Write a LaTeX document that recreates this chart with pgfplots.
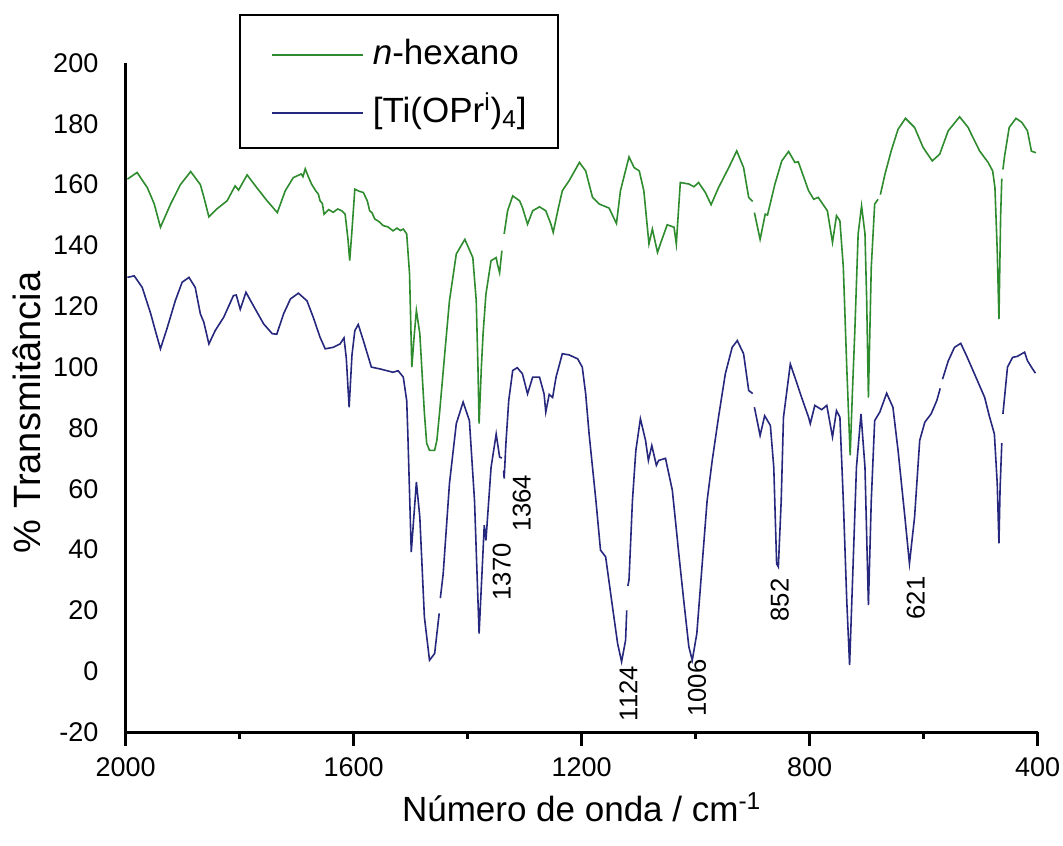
\documentclass[border=0pt]{standalone}
\usepackage{fontspec}
\setmainfont{Liberation Sans}
\usepackage{pgfplots}
\usepackage{pgfplotstable}
\pgfplotsset{compat=1.18}
\definecolor{hexgreen}{RGB}{46,139,46}
\definecolor{tiblue}{RGB}{38,40,125}

\pgfplotstableread{
w t
1997 161.8
1980 164
1962 159
1950 153.7
1939 146
1921 153.7
1904 160
1886 164.3
1869 160
1863 156
1854 149.4
1840 152
1822 154.7
1808 159.6
1802 158.2
1787 163.2
1770 159
1752 154.7
1734 150.8
1720 158
1706 162.3
1692 163.5
1689 162.6
1685 165.2
1680 162.8
1674 160.2
1666 157.8
1662 156.9
1659 154.7
1655 153.8
1652 150.3
1644 151.8
1636 150.9
1628 152
1621 151.4
1615 150.3
1610 142
1607 135
1603 145
1598 158.5
1590 157.8
1583 157.4
1576 154.6
1572 151.4
1568 150.8
1563 148.7
1556 147.9
1548 146.5
1540 146.1
1531 144.8
1524 145.7
1518 144.9
1513 145.4
1507 143.8
1502 130.6
1498 100
1494 110
1490 118.6
1484 111
1480 98
1476 85
1472 75
1467 72.6
1458 72.6
1454 76
1449 85.7
1440 105
1432 121.8
1420 137.2
1405 142
1391 136
1385 121.8
1382 100
1380 81.4
1376 100
1373 111
1368 124
1359 135
1350 136
1348 134
1344 131
1340 138.3
1338 nan
1336 143.8
1330 151.4
1321 156.3
1309 154.7
1304 152.5
1295 147
1286 151.4
1274 152.7
1263 151.4
1254 147
1250 144.3
1242 151.4
1234 158
1222 161.3
1204 167.3
1193 164.5
1181 155.8
1169 153.6
1152 152.3
1139 147.2
1132 158
1117 169.1
1108 165.6
1099 164.5
1091 158
1082 140.5
1076 145.4
1067 137.7
1062 140.5
1050 146.8
1038 146
1034 140.5
1027 160.7
1012 160.2
1003 159.3
995 160.7
983 157.4
973 153.4
960 159
942 165.6
928 171.1
916 165.6
907 155.8
900 154.5
898 nan
897 150.8
887 142
878 150.3
874 150
861 160.2
849 167.8
837 170.9
826 167.3
820 167.5
802 158
793 155.2
785 155.8
773 152.5
769 151.4
760 141
753 149.8
747 148.1
741 132.8
735 100
729 71
725 92
721 111
715 143.8
709 153
703 143.8
700 121.8
697 90
692 132.8
686 153.6
680 155.2
678 nan
676 156.7
668 163.4
657 171.1
645 178.2
632 181.8
616 178.8
601 172.2
585 167.8
572 170
557 177.7
537 182.3
522 178.8
517 176.8
502 171.1
487 167.3
479 164.5
475 159
471 138.3
468 115.8
465 150
463 162
462 nan
461 165
458 169.5
450 178.8
438 181.8
428 180.5
418 177.7
411 171
403 170.5
}\hexano

\pgfplotstableread{
w t
1997 129.5
1985 130
1971 126.2
1956 117.5
1948 112
1939 106
1927 113
1913 121.8
1901 127.9
1889 129.5
1878 126.2
1869 117.5
1863 114.8
1854 107.6
1843 112
1828 116.4
1811 123.5
1806 123.7
1799 119
1789 124.6
1776 120.2
1758 114.2
1743 111
1735 110.8
1723 117.5
1711 122.4
1697 124.3
1682 121.8
1671 116.4
1659 109.8
1650 106
1636 106.5
1624 107.6
1617 109.6
1613 103
1608 86.8
1603 104
1598 112
1592 114
1583 108.7
1569 100
1554 99.4
1531 98.3
1522 98.8
1513 96.7
1507 89
1505 78
1499 39.2
1490 62.2
1484 50.7
1476 17.9
1467 3.6
1458 5.8
1450 19
1449 nan
1448 24
1443 32
1432 61.7
1420 81.4
1408 88.5
1397 82.4
1388 56
1380 12.4
1373 39.8
1371 48
1368 43
1359 67
1350 78
1344 70.4
1340 70.1
1338 nan
1337 66
1336 63.3
1333 74.8
1328 89
1321 98.9
1313 99.8
1304 97.8
1295 91.2
1286 96.7
1274 96.7
1266 91.2
1263 85.2
1257 91
1251 90
1245 96.7
1234 104.4
1222 104
1207 102.7
1199 100
1193 91.2
1187 78
1175 56
1167 39.8
1158 37.6
1146 21.2
1137 9.1
1130 3.1
1123 10.2
1121 20
1120 nan
1119 28
1117 30
1111 56
1105 72.6
1097 83
1088 75.9
1083 69.3
1077 74.2
1069 67.7
1065 69.3
1053 70
1041 59.5
1032 43
1031 41
1021 23.3
1012 8
1006 3.6
998 12.4
989 34.3
980 56
971 69.3
960 83.5
948 97.8
936 106.5
927 108.7
916 104.4
907 92.3
900 91.3
898 nan
897 86.8
887 77.5
879 84
869 80.8
863 67
858 35.3
855 34.3
850 56
846 83.5
834 101
823 95
816 91
802 83.5
799 81.4
791 87.4
779 86
770 87.4
760 77
753 85.7
747 83.5
741 56
735 23.3
730 2
724 34.3
718 67
710 84.6
703 67
697 21.7
692 56
686 82.4
677 85.2
665 91.4
654 86.8
645 72.6
633 50.7
625 35.4
616 50.7
607 75.9
598 81.9
587 84.6
577 89
571 93
569 nan
567 96
557 102
546 106.5
535 107.8
525 103.8
511 97.8
493 90
485 84
476 78
471 61.7
468 42
466 60
463 75
462 nan
461 84.6
453 100
444 103.2
436 103.5
423 104.9
418 102.1
411 100
404 98
}\tiprop

\begin{document}
\begin{tikzpicture}
\begin{axis}[
  at={(0,0)}, anchor=south west,
  scale only axis, width=456pt, height=334.5pt,
  xmin=400, xmax=2000, x dir=reverse,
  ymin=-20, ymax=200,
  axis x line*=bottom, axis y line*=left,
  xtick={400,800,1200,1600,2000},
  minor xtick={600,1000,1400,1800},
  ytick={-20,0,20,40,60,80,100,120,140,160,180,200},
  tick align=outside,
  major tick length=7pt, minor tick length=3.5pt,
  every tick/.style={black, line width=1.5pt},
  ytick style={draw=none},
  axis line style={line width=1.5pt, black},
  scaled ticks=false,
  /pgf/number format/assume math mode=true,
  /pgf/number format/1000 sep={},
  ticklabel style={font=\fontsize{13.5}{16}\selectfont},
  xticklabel style={inner sep=0pt, anchor=north, yshift=-5.5pt},
  yticklabel style={inner sep=0pt, anchor=east, xshift=-6.5pt},
  xlabel={Número de onda / cm\textsuperscript{-1}},
  ylabel={\% Transmitância},
  xlabel style={font=\fontsize{17.5}{21}\selectfont, at={(axis description cs:0.5,-0.1345)}, anchor=base, inner sep=0pt},
  ylabel style={font=\fontsize{19}{23}\selectfont, at={(axis description cs:-0.108,0.478)}, anchor=center, inner sep=0pt},
  unbounded coords=jump,
  legend style={at={(0.1237,1.0732)}, anchor=north west, draw=black, line width=1.2pt,
    inner xsep=15.75pt, inner ysep=4.25pt, row sep=0pt,
    font=\fontsize{17.5}{21}\selectfont,
    cells={anchor=base west},
    nodes={inner sep=0pt, text height=20.5pt, text depth=8.5pt},
    /tikz/every odd column/.append style={column sep=4.5pt}},
  legend image code/.code={\draw[#1, line width=0.8pt] (0pt,5pt) -- (45.5pt,5pt);},
]
\addplot[hexgreen, line width=0.8pt] table[x=w, y=t] {\hexano};
\addlegendentry{\textit{n}-hexano}
\addplot[tiblue, line width=0.8pt] table[x=w, y=t] {\tiprop};
\addlegendentry{[Ti(OPr\textsuperscript{i})\textsubscript{4}]}

\begin{scope}[every node/.style={rotate=90, font=\fontsize{12.85}{15}\selectfont, inner sep=0pt}]
\node at (axis cs:1340,32.7) {1370};
\node at (axis cs:1305,55.2) {1364};
\node at (axis cs:1118,-7.3) {1124};
\node at (axis cs:997.5,-5.6) {1006};
\node at (axis cs:852.7,23.4) {852};
\node at (axis cs:614,24.1) {621};
\end{scope}
\end{axis}
\pgfresetboundingbox
\path (-62.85pt,-56.5pt) rectangle (468.65pt,366pt);
\end{tikzpicture}
\end{document}
